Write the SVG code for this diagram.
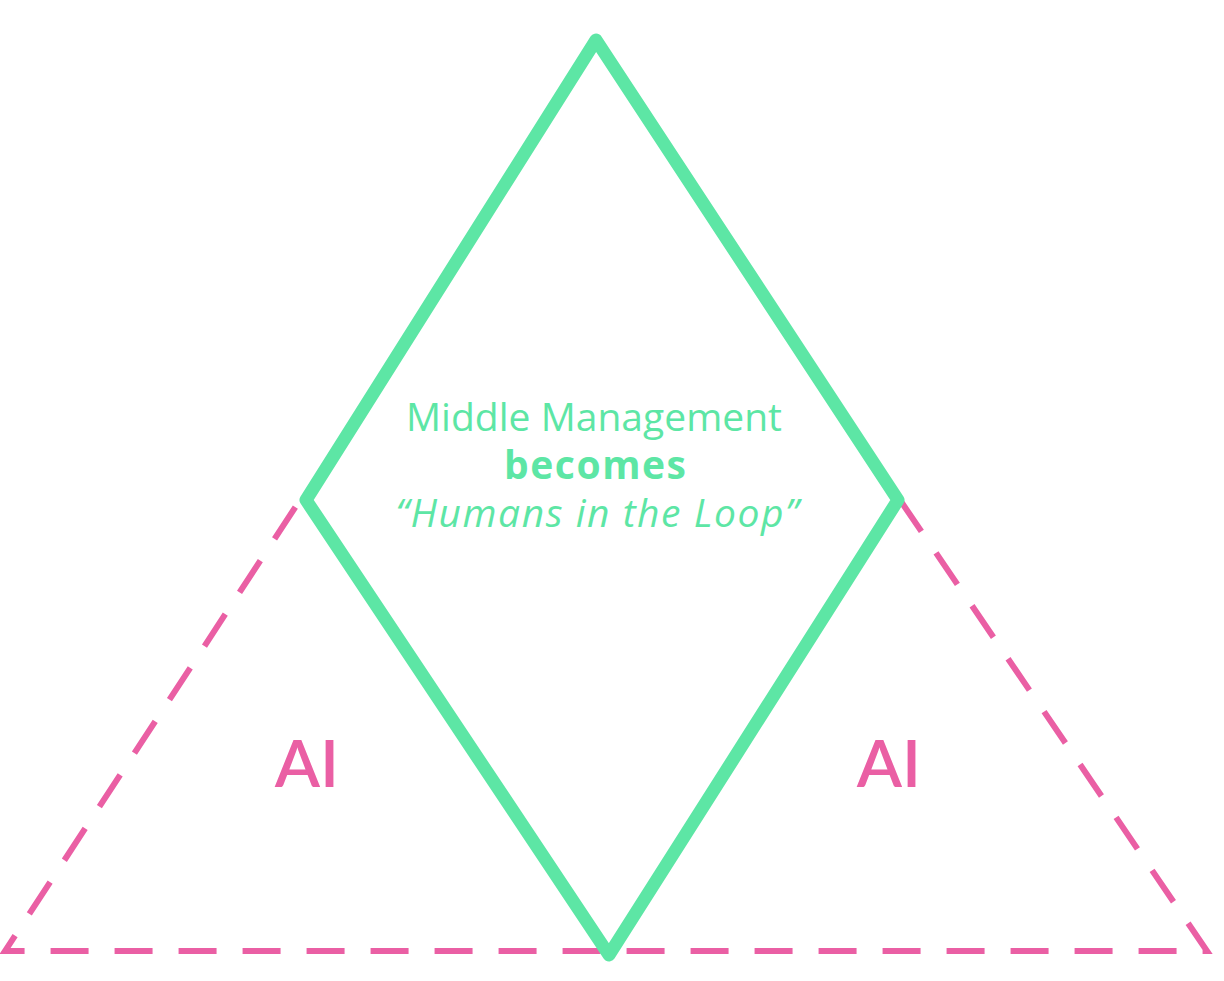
<svg xmlns="http://www.w3.org/2000/svg" width="1224" height="981" viewBox="0 0 1224 981">
<style>
.tri{fill:none;stroke:#ea5fa4;stroke-width:6;stroke-dasharray:38 26;}
.dia{fill:none;stroke:#5de6a5;stroke-width:13;stroke-linejoin:round;stroke-linecap:round;}
.t{font-family:"Open Sans",Lato,sans-serif;fill:#5de6a5;text-anchor:middle;font-size:39px;}
.ai{font-family:Lato,"Open Sans",sans-serif;fill:#ea5fa4;font-size:66px;font-weight:600;text-anchor:middle;}
</style>
<rect width="1224" height="981" fill="#ffffff"/>
<g id="connectors">
<path class="tri" d="M900 500 L1207 951 L5 951 L300 500"/>
</g>
<g id="diamond">
<path class="dia" d="M596 40 L898 500 L609 955 L306 500 Z"/>
<text class="t" x="594" y="431" font-weight="400" textLength="376" lengthAdjust="spacing">Middle Management</text>
<text class="t" x="595" y="479" font-weight="700" textLength="182" lengthAdjust="spacing">becomes</text>
<text class="t" x="597" y="527" font-style="italic" font-weight="400" textLength="403" lengthAdjust="spacing">“Humans in the Loop”</text>
</g>
<g id="ai-left"><text class="ai" x="307" y="787">AI</text></g>
<g id="ai-right"><text class="ai" x="889" y="787">AI</text></g>
</svg>
